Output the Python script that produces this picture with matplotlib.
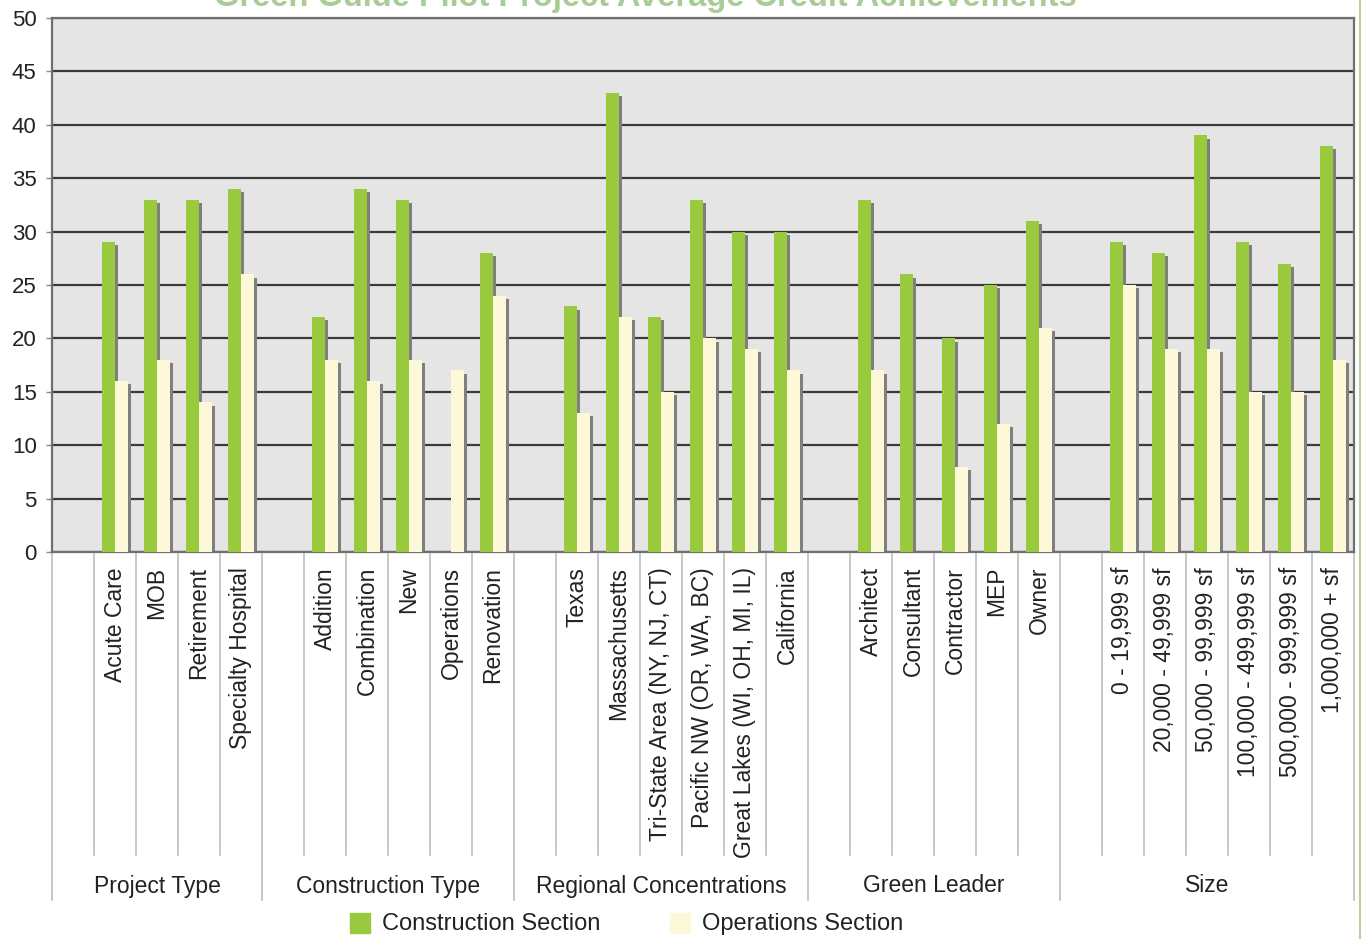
import numpy as np
import matplotlib
matplotlib.use("Agg")
import matplotlib.pyplot as plt
import matplotlib.transforms as mtransforms
from matplotlib.patches import Rectangle

plt.rcParams['font.family'] = ['Liberation Sans', 'DejaVu Sans']

# groups of categories; each group starts with an empty slot
groups = ["Project Type", "Construction Type", "Regional Concentrations",
          "Green Leader", "Size"]
group_items = [
    ["Acute Care", "MOB", "Retirement", "Specialty Hospital"],
    ["Addition", "Combination", "New", "Operations", "Renovation"],
    ["Texas", "Massachusetts", "Tri-State Area (NY, NJ, CT)",
     "Pacific NW (OR, WA, BC)", "Great Lakes (WI, OH, MI, IL)", "California"],
    ["Architect", "Consultant", "Contractor", "MEP", "Owner"],
    ["0 - 19,999 sf", "20,000 - 49,999 sf", "50,000 - 99,999 sf",
     "100,000 - 499,999 sf", "500,000 - 999,999 sf", "1,000,000 + sf"],
]
construction = [
    [29, 33, 33, 34],
    [22, 34, 33, 0, 28],
    [23, 43, 22, 33, 30, 30],
    [33, 26, 20, 25, 31],
    [29, 28, 39, 29, 27, 38],
]
operations = [
    [16, 18, 14, 26],
    [18, 16, 18, 17, 24],
    [13, 22, 15, 20, 19, 17],
    [17, 0, 8, 12, 21],
    [25, 19, 19, 15, 15, 18],
]

GREEN = "#99c93c"
CREAM = "#fdf8d8"
SHADOW = "#7f7f7f"

# lay the categories out in slots
labels, cons, ops, group_start = [], [], [], []
for items, c, o in zip(group_items, construction, operations):
    group_start.append(len(labels))
    labels.append("")
    cons.append(np.nan)
    ops.append(np.nan)
    labels += items
    cons += c
    ops += o
n = len(labels)
x = np.arange(n)
cons = np.array(cons, dtype=float)
ops = np.array(ops, dtype=float)

W, H = 1362, 939
fig = plt.figure(figsize=(W / 100, H / 100), dpi=100)
ax = fig.add_axes([52 / W, (H - 552) / H, (1354 - 52) / W, (552 - 18) / H])
ax.set_facecolor("#e5e5e5")
ax.set_xlim(-0.5, n - 0.5)
ax.set_ylim(0, 50)

bw = 0.31
dx, dy = 0.07, 0.3
for xi, c, o in zip(x, cons, ops):
    for left, val, col in ((xi - bw, c, GREEN), (xi, o, CREAM)):
        if np.isnan(val) or val <= 0:
            continue
        ax.add_patch(Rectangle((left + dx, 0), bw, val - dy,
                               color=SHADOW, lw=0, zorder=2))
        ax.add_patch(Rectangle((left, 0), bw, val, facecolor=col,
                               edgecolor="none", zorder=3))

ax.set_yticks(np.arange(0, 51, 5))
ax.yaxis.grid(True, color="#3a3a3a", lw=1.6, zorder=1)
ax.set_axisbelow(True)
ax.tick_params(axis="y", labelsize=16, colors="#222222", length=4,
               width=1, pad=7)
ax.tick_params(axis="y", color="#888888")
ax.set_xticks([])
for side in ax.spines:
    ax.spines[side].set_color("#707070")
    ax.spines[side].set_linewidth(1.6)

# category text and separators below the plot
trans = mtransforms.blended_transform_factory(ax.transData, ax.transAxes)
inner_bottom = (552 - 855) / 534
outer_bottom = (552 - 900) / 534
starts = set(group_start)
for i in range(n + 1):
    bottom = outer_bottom if (i in starts or i == n) else inner_bottom
    ax.plot([i - 0.5, i - 0.5], [0, bottom], transform=trans,
            color="#bdbdbd", lw=1.2, clip_on=False)
for xi, lab in zip(x, labels):
    if lab:
        ax.text(xi, -15 / 534, lab, transform=trans, rotation=90,
                ha="center", va="top", fontsize=16.5, color="#222222")
ends = group_start[1:] + [n]
for name, s, e in zip(groups, group_start, ends):
    ax.text((s + e - 1) / 2, (552 - 886) / 534, name, transform=trans,
            ha="center", va="center", fontsize=16.5, color="#222222")

# legend
fig.patches.append(Rectangle((350 / W, (H - 933) / H), 20 / W, 20 / H,
                             transform=fig.transFigure, color=GREEN))
fig.text(382 / W, (H - 924) / H, "Construction Section", fontsize=17,
         va="center", color="#222222")
fig.patches.append(Rectangle((670 / W, (H - 933) / H), 20 / W, 20 / H,
                             transform=fig.transFigure, color=CREAM))
fig.text(702 / W, (H - 924) / H, "Operations Section", fontsize=17,
         va="center", color="#222222")

fig.text(645 / W, (H + 3) / H, "Green Guide Pilot Project Average Credit Achievements",
         fontsize=23.5, fontweight="bold", color="#a9cc97", ha="center",
         va="center")
fig.add_artist(plt.Line2D([1360 / W, 1360 / W], [0, 1], color="#b5d3a5",
                          lw=1.5, transform=fig.transFigure))

fig.savefig("out.png", dpi=100)
